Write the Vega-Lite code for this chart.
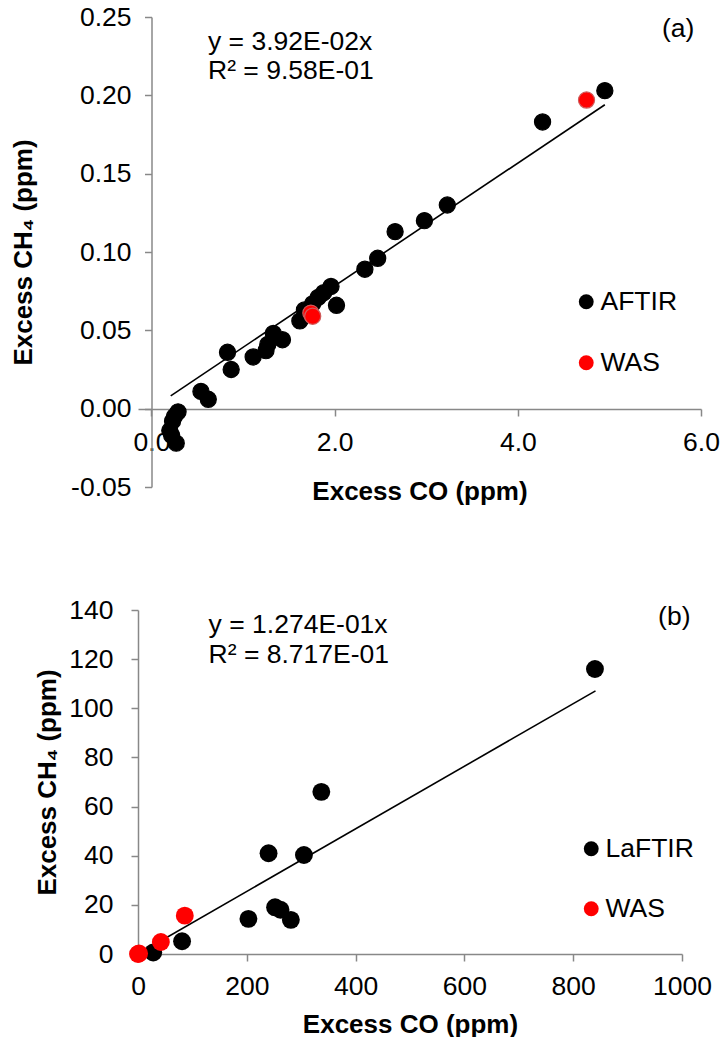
{
  "$schema": "https://vega.github.io/schema/vega-lite/v6.json",
  "padding": {"left": 10, "top": 4, "right": 0, "bottom": 0},
  "background": "white",
  "spacing": 93,
  "config": {
    "view": {"stroke": null},
    "axis": {
      "grid": false,
      "domainColor": "#888888",
      "domainWidth": 1.5,
      "tickColor": "#888888",
      "tickWidth": 1.5,
      "tickSize": 7,
      "labelFlush": false,
      "labelOverlap": false,
      "labelFont": "Liberation Sans",
      "labelFontSize": 26.5,
      "labelColor": "black",
      "titleFont": "Liberation Sans",
      "titleFontSize": 26,
      "titleFontWeight": "bold",
      "titleColor": "black"
    },
    "legend": {
      "labelFont": "Liberation Sans",
      "labelFontSize": 26.5,
      "labelColor": "black"
    },
    "text": {"font": "Liberation Sans", "fontSize": 26.5, "color": "black"}
  },
  "datasets": {
    "a_points": [
      {"x": 4.95, "y": 0.203, "series": "AFTIR"},
      {"x": 4.27, "y": 0.183, "series": "AFTIR"},
      {"x": 3.23, "y": 0.130, "series": "AFTIR"},
      {"x": 2.98, "y": 0.120, "series": "AFTIR"},
      {"x": 2.66, "y": 0.113, "series": "AFTIR"},
      {"x": 2.47, "y": 0.096, "series": "AFTIR"},
      {"x": 2.33, "y": 0.089, "series": "AFTIR"},
      {"x": 1.96, "y": 0.078, "series": "AFTIR"},
      {"x": 1.88, "y": 0.074, "series": "AFTIR"},
      {"x": 1.82, "y": 0.071, "series": "AFTIR"},
      {"x": 1.76, "y": 0.067, "series": "AFTIR"},
      {"x": 2.02, "y": 0.066, "series": "AFTIR"},
      {"x": 1.67, "y": 0.063, "series": "AFTIR"},
      {"x": 1.62, "y": 0.056, "series": "AFTIR"},
      {"x": 1.33, "y": 0.048, "series": "AFTIR"},
      {"x": 1.43, "y": 0.044, "series": "AFTIR"},
      {"x": 1.27, "y": 0.041, "series": "AFTIR"},
      {"x": 1.25, "y": 0.037, "series": "AFTIR"},
      {"x": 1.11, "y": 0.033, "series": "AFTIR"},
      {"x": 0.83, "y": 0.036, "series": "AFTIR"},
      {"x": 0.87, "y": 0.025, "series": "AFTIR"},
      {"x": 0.54, "y": 0.011, "series": "AFTIR"},
      {"x": 0.62, "y": 0.006, "series": "AFTIR"},
      {"x": 0.29, "y": -0.002, "series": "AFTIR"},
      {"x": 0.25, "y": -0.005, "series": "AFTIR"},
      {"x": 0.23, "y": -0.008, "series": "AFTIR"},
      {"x": 0.20, "y": -0.014, "series": "AFTIR"},
      {"x": 0.22, "y": -0.017, "series": "AFTIR"},
      {"x": 0.27, "y": -0.022, "series": "AFTIR"},
      {"x": 4.75, "y": 0.197, "series": "WAS"},
      {"x": 1.74, "y": 0.061, "series": "WAS"},
      {"x": 1.76, "y": 0.059, "series": "WAS"}
    ],
    "a_fit": [
      {"x": 0.21, "y": 0.0082},
      {"x": 4.95, "y": 0.194}
    ],
    "a_text": [
      {"x": 0.617, "y": 0.2343, "label": "y = 3.92E-02x"},
      {"x": 0.617, "y": 0.2157, "label": "R² = 9.58E-01"},
      {"x": 5.574, "y": 0.2425, "label": "(a)"}
    ],
    "b_points": [
      {"x": 840, "y": 116, "series": "LaFTIR"},
      {"x": 337, "y": 66, "series": "LaFTIR"},
      {"x": 240, "y": 41, "series": "LaFTIR"},
      {"x": 305, "y": 40.3, "series": "LaFTIR"},
      {"x": 252, "y": 19, "series": "LaFTIR"},
      {"x": 262, "y": 18, "series": "LaFTIR"},
      {"x": 203, "y": 14.3, "series": "LaFTIR"},
      {"x": 281, "y": 13.9, "series": "LaFTIR"},
      {"x": 81, "y": 5.2, "series": "LaFTIR"},
      {"x": 28, "y": 0.6, "series": "LaFTIR"},
      {"x": 86, "y": 15.6, "series": "WAS"},
      {"x": 42, "y": 4.9, "series": "WAS"},
      {"x": 2, "y": 0.2, "series": "WAS"},
      {"x": 0, "y": 0, "series": "WAS"}
    ],
    "b_fit": [
      {"x": 0, "y": 0},
      {"x": 841, "y": 107.1}
    ],
    "b_text": [
      {"x": 129.8, "y": 133.9, "label": "y = 1.274E-01x"},
      {"x": 129.8, "y": 121.7, "label": "R² = 8.717E-01"},
      {"x": 956, "y": 137.3, "label": "(b)"}
    ]
  },
  "resolve": {"scale": {"color": "independent"}, "legend": {"color": "independent"}},
  "vconcat": [
    {
      "width": 563,
      "height": 470,
      "encoding": {
        "x": {
          "field": "x", "type": "quantitative",
          "scale": {"domain": [-0.1473, 6], "nice": false, "zero": false},
          "axis": {
            "title": "Excess CO (ppm)",
            "values": [0, 2, 4, 6], "format": ".1f",
            "offset": -78, "labelPadding": 13.5, "titlePadding": 22
          }
        },
        "y": {
          "field": "y", "type": "quantitative",
          "scale": {"domain": [-0.05, 0.25], "nice": false, "zero": false},
          "axis": {
            "title": "Excess CH₄ (ppm)",
            "values": [-0.05, 0, 0.05, 0.1, 0.15, 0.2, 0.25],
            "labelExpr": "replace(format(datum.value, '.2f'), '\u2212', '-')",
            "offset": -13.5, "labelPadding": 13.5, "titlePadding": 34.5
          }
        }
      },
      "layer": [
        {
          "data": {"name": "a_fit"},
          "mark": {"type": "line", "color": "black", "strokeWidth": 1.6},
          "encoding": {}
        },
        {
          "data": {"name": "a_points"},
          "mark": {"type": "circle", "size": 260, "opacity": 1},
          "encoding": {
            "color": {
              "field": "series", "type": "nominal",
              "scale": {"domain": ["AFTIR", "WAS"], "range": ["#000000", "#ff0000"]},
              "legend": {
                "title": null, "orient": "none", "legendX": 435, "legendY": 271.5,
                "symbolType": "circle", "symbolSize": 220, "symbolStrokeWidth": 0,
                "labelOffset": 1, "rowPadding": 34, "padding": 0
              }
            },
            "stroke": {
              "field": "series", "type": "nominal",
              "scale": {"domain": ["AFTIR", "WAS"], "range": ["#000000", "#d05a5a"]},
              "legend": null
            },
            "strokeWidth": {"value": 1.2}
          }
        },
        {
          "data": {"name": "a_text"},
          "mark": {"type": "text", "baseline": "middle", "align": "left"},
          "encoding": {"text": {"field": "label"}}
        }
      ]
    },
    {
      "width": 544,
      "height": 344,
      "encoding": {
        "x": {
          "field": "x", "type": "quantitative",
          "scale": {"domain": [0, 1000], "nice": false},
          "axis": {
            "title": "Excess CO (ppm)",
            "values": [0, 200, 400, 600, 800, 1000], "format": "d",
            "labelPadding": 12.5, "titlePadding": 11
          }
        },
        "y": {
          "field": "y", "type": "quantitative",
          "scale": {"domain": [0, 140], "nice": false},
          "axis": {
            "title": "Excess CH₄ (ppm)",
            "values": [0, 20, 40, 60, 80, 100, 120, 140], "format": "d",
            "labelPadding": 18, "titlePadding": 7.8
          }
        }
      },
      "layer": [
        {
          "data": {"name": "b_fit"},
          "mark": {"type": "line", "color": "black", "strokeWidth": 1.6},
          "encoding": {}
        },
        {
          "data": {"name": "b_points"},
          "mark": {"type": "circle", "size": 320, "opacity": 1},
          "encoding": {
            "color": {
              "field": "series", "type": "nominal",
              "scale": {"domain": ["LaFTIR", "WAS"], "range": ["#000000", "#ff0000"]},
              "legend": {
                "title": null, "orient": "none", "legendX": 440, "legendY": 225.5,
                "symbolType": "circle", "symbolSize": 220, "symbolStrokeWidth": 0,
                "labelOffset": 1, "rowPadding": 33, "padding": 0
              }
            }
          }
        },
        {
          "data": {"name": "b_text"},
          "mark": {"type": "text", "baseline": "middle", "align": "left"},
          "encoding": {"text": {"field": "label"}}
        }
      ]
    }
  ]
}
